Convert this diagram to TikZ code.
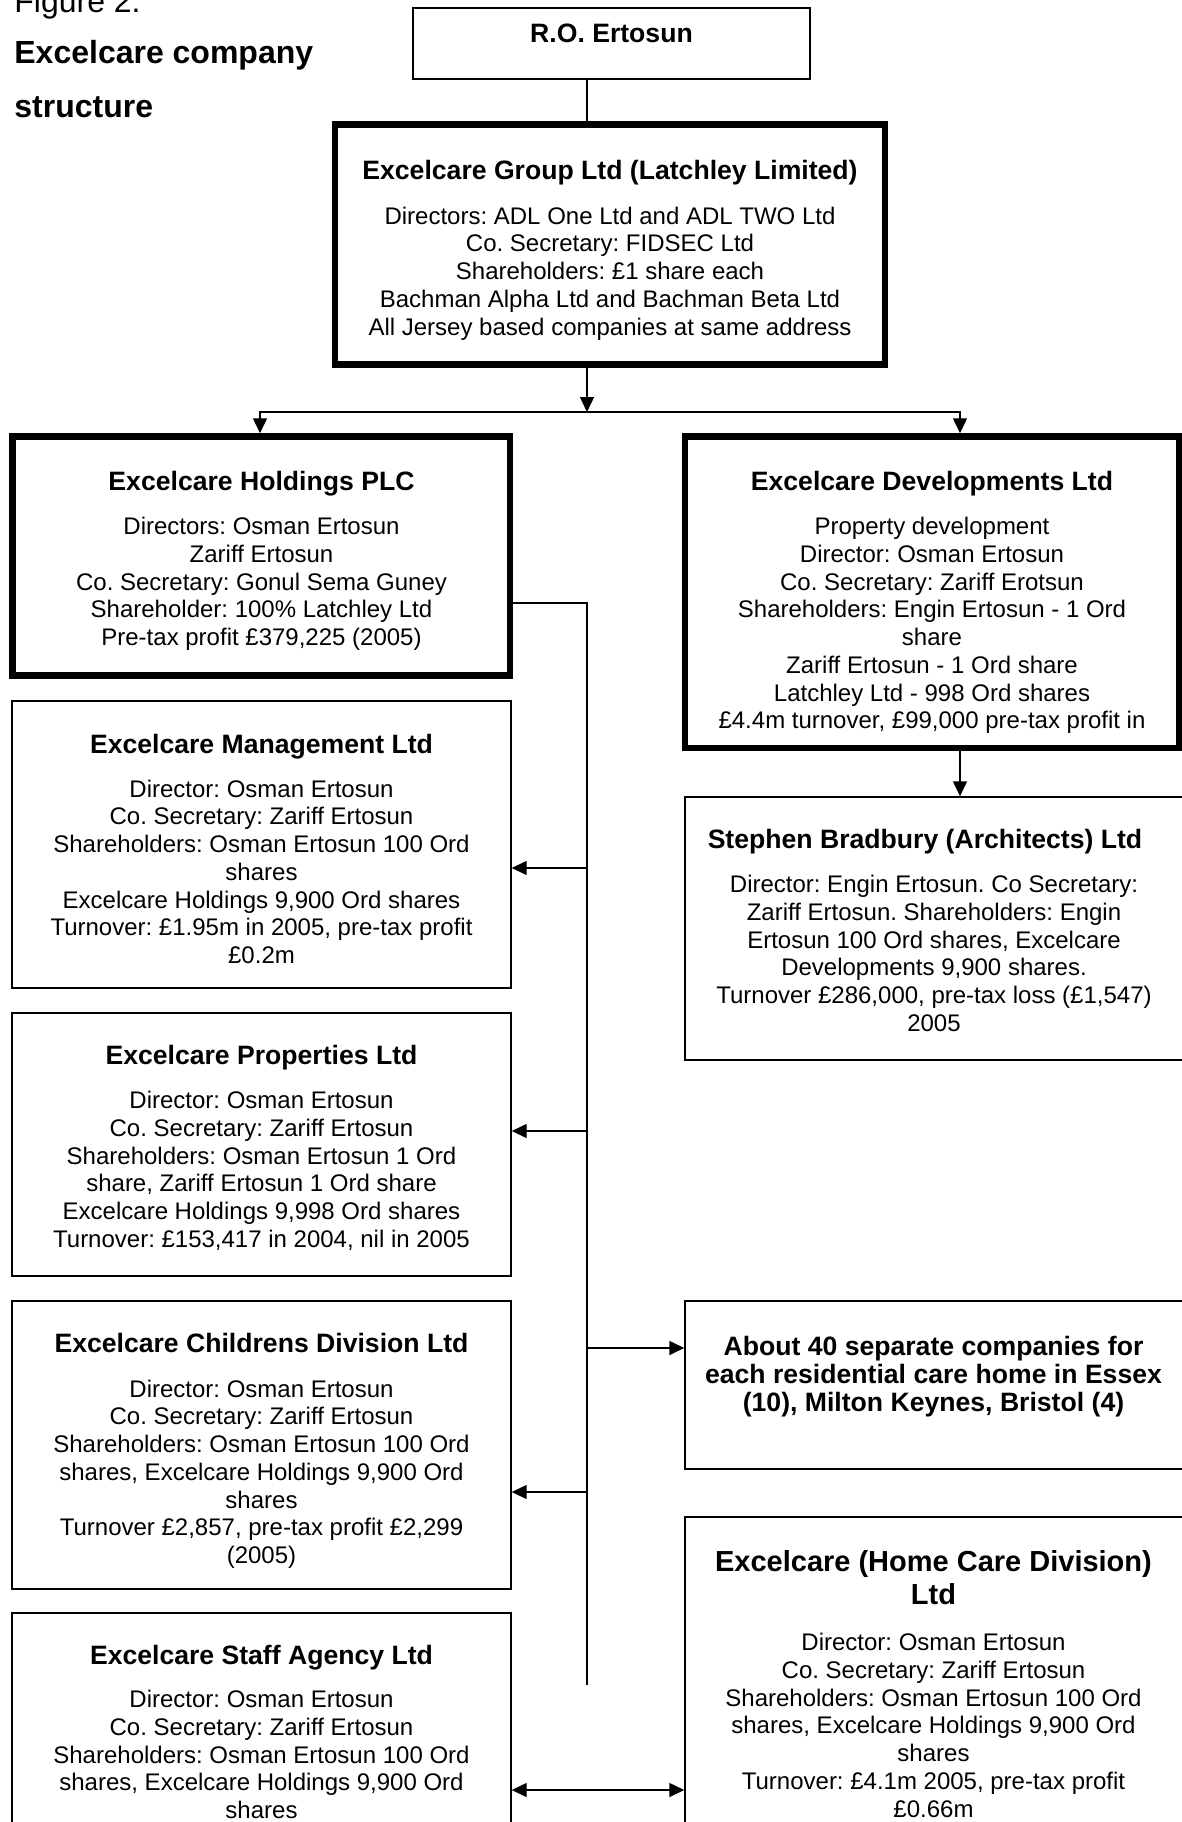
\documentclass[tikz,border=0pt]{standalone}
\usepackage{fontspec}
\setmainfont{Liberation Sans}
\usetikzlibrary{arrows.meta}
\frenchspacing
\newcommand{\cbox}[6]{\node[#2, minimum width={(#5-#3)*0.5pt}, minimum height={(#6-#4)*0.5pt}, inner sep=0pt] (#1) at ({(#3+#5)/2},{(#4+#6)/2}) {};}
\tikzset{
  thinbox/.style={draw=black, line width=0.7pt},
  thickbox/.style={draw=black, line width=3.25pt},
  conn/.style={line width=0.7pt},
  arr/.style={conn, -{Triangle[length=7.5pt,width=7pt]}},
  darr/.style={conn, {Triangle[length=7.5pt,width=7pt]}-{Triangle[length=7.5pt,width=7pt]}},
  ttl/.style={font=\fontsize{13.3}{14}\bfseries\selectfont\frenchspacing, anchor=base, inner sep=0pt},
  bdy/.style={font=\fontsize{12}{13.85}\selectfont\frenchspacing, align=center, anchor=north, inner sep=0pt},
  bbdy/.style={font=\fontsize{13.3}{14}\bfseries\selectfont\frenchspacing, align=center, anchor=north, inner sep=0pt},
  htl/.style={font=\fontsize{14.5}{16.75}\bfseries\selectfont\frenchspacing, align=center, anchor=north, inner sep=0pt},
  head/.style={font=\fontsize{16}{19}\selectfont\frenchspacing, anchor=base west, inner sep=0pt},
  bhead/.style={font=\fontsize{16}{19}\bfseries\selectfont\frenchspacing, anchor=base west, inner sep=0pt},
}
\begin{document}
\begin{tikzpicture}[x=0.5pt,y=-0.5pt]
\useasboundingbox (0,0) rectangle (1182,1822);
\fill[white] (0,0) rectangle (1182,1822);
\clip (0,0) rectangle (1182,1822);

% headings
\node[head] (fig) at (14,12) {Figure 2.};
\node[bhead] (hd1) at (14,63.5) {Excelcare company};
\node[bhead] (hd2) at (14,117) {structure};

% boxes
\cbox{ro}{thinbox}{413}{8}{810}{79}
\cbox{grp}{thickbox}{335}{124.5}{885}{364.5}
\cbox{hold}{thickbox}{12.5}{436.5}{510}{675.5}
\cbox{dev}{thickbox}{685}{436.5}{1179}{748}
\cbox{mgmt}{thinbox}{12}{701}{511}{988}
\cbox{prop}{thinbox}{12}{1013}{511}{1276}
\cbox{chil}{thinbox}{12}{1301}{511}{1589}
\cbox{staff}{thinbox}{12}{1613}{511}{1950}
\cbox{brad}{thinbox}{685}{797}{1183}{1060}
\cbox{about}{thinbox}{685}{1301}{1183}{1469}
\cbox{home}{thinbox}{685}{1517}{1183}{1950}

% helper coordinates
\coordinate (cx) at (587,0);
\coordinate (barL) at (260,412);
\coordinate (barR) at (960,412);
\coordinate (hc) at (587,603);
\coordinate (vend) at (587,1685);
\coordinate (bm) at (587,868);
\coordinate (bp) at (587,1131);
\coordinate (ba) at (587,1348);
\coordinate (bc) at (587,1492);
\coordinate (dy) at (600,1790);

% connectors
\draw[conn] (ro.south -| cx) -- (grp.north -| cx);
\draw[arr] (grp.south -| cx) -- (barL -| cx);
\draw[darr] (hold.north -| barL) -- (barL) -- (barR) -- (dev.north -| barR);
\draw[arr] (dev.south -| barR) -- (brad.north -| barR);
\draw[conn] (hc -| hold.east) -- (hc) -- (vend);
\draw[arr] (bm) -- (bm -| mgmt.east);
\draw[arr] (bp) -- (bp -| prop.east);
\draw[arr] (ba) -- (ba -| about.west);
\draw[arr] (bc) -- (bc -| chil.east);
\draw[darr] (dy -| staff.east) -- (dy -| home.west);

% texts
\node[ttl] (rot) at (611.5,42) {R.O. Ertosun};

\node[ttl] (grpt) at (610,179.6) {Excelcare Group Ltd (Latchley Limited)};
\node[bdy] (grpb) at (610,206.4) {Directors: ADL One Ltd and ADL TWO Ltd\\Co. Secretary: FIDSEC Ltd\\Shareholders: £1 share each\\Bachman Alpha Ltd and Bachman Beta Ltd\\All Jersey based companies at same address};

\node[ttl] (holdt) at (261.5,490) {Excelcare Holdings PLC};
\node[bdy] (holdb) at (261.5,517) {Directors: Osman Ertosun\\Zariff Ertosun\\Co. Secretary: Gonul Sema Guney\\Shareholder: 100\% Latchley Ltd\\Pre-tax profit £379,225 (2005)};

\node[ttl] (devt) at (932,490) {Excelcare Developments Ltd};
\node[bdy] (devb) at (932,517) {Property development\\Director: Osman Ertosun\\Co. Secretary: Zariff Erotsun\\Shareholders: Engin Ertosun - 1 Ord\\share\\Zariff Ertosun - 1 Ord share\\Latchley Ltd - 998 Ord shares\\£4.4m turnover, £99,000 pre-tax profit in};

\node[ttl] (bradt) at (925,848.6) {Stephen Bradbury (Architects) Ltd};
\node[bdy] (bradb) at (934,874.9) {Director: Engin Ertosun. Co Secretary:\\Zariff Ertosun. Shareholders: Engin\\Ertosun 100 Ord shares, Excelcare\\Developments 9,900 shares.\\Turnover £286,000, pre-tax loss (£1,547)\\2005};

\node[ttl] (mgmtt) at (261.5,753.6) {Excelcare Management Ltd};
\node[bdy] (mgmtb) at (261.5,779.4) {Director: Osman Ertosun\\Co. Secretary: Zariff Ertosun\\Shareholders: Osman Ertosun 100 Ord\\shares\\Excelcare Holdings 9,900 Ord shares\\Turnover: £1.95m in 2005, pre-tax profit\\£0.2m};

\node[ttl] (propt) at (261.5,1064.6) {Excelcare Properties Ltd};
\node[bdy] (propb) at (261.5,1090.9) {Director: Osman Ertosun\\Co. Secretary: Zariff Ertosun\\Shareholders: Osman Ertosun 1 Ord\\share, Zariff Ertosun 1 Ord share\\Excelcare Holdings 9,998 Ord shares\\Turnover: £153,417 in 2004, nil in 2005};

\node[bbdy] (aboutt) at (933.5,1335.4) {About 40 separate companies for\\each residential care home in Essex\\(10), Milton Keynes, Bristol (4)};

\node[ttl] (chilt) at (261.5,1352.6) {Excelcare Childrens Division Ltd};
\node[bdy] (chilb) at (261.5,1379.4) {Director: Osman Ertosun\\Co. Secretary: Zariff Ertosun\\Shareholders: Osman Ertosun 100 Ord\\shares, Excelcare Holdings 9,900 Ord\\shares\\Turnover £2,857, pre-tax profit £2,299\\(2005)};

\node[htl] (homet) at (933.5,1550) {Excelcare (Home Care Division)\\Ltd};
\node[bdy] (homeb) at (933.5,1633) {Director: Osman Ertosun\\Co. Secretary: Zariff Ertosun\\Shareholders: Osman Ertosun 100 Ord\\shares, Excelcare Holdings 9,900 Ord\\shares\\Turnover: £4.1m 2005, pre-tax profit\\£0.66m};

\node[ttl] (stafft) at (261.5,1664) {Excelcare Staff Agency Ltd};
\node[bdy] (staffb) at (261.5,1690) {Director: Osman Ertosun\\Co. Secretary: Zariff Ertosun\\Shareholders: Osman Ertosun 100 Ord\\shares, Excelcare Holdings 9,900 Ord\\shares};
\end{tikzpicture}
\end{document}
